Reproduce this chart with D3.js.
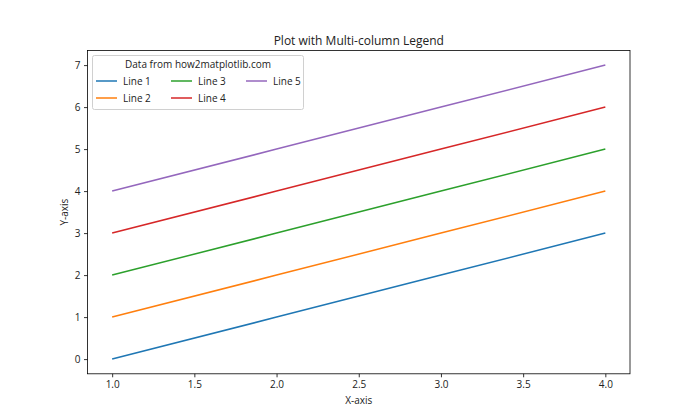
<!DOCTYPE html>
<html><head><meta charset="utf-8">
<script src="https://cdn.jsdelivr.net/npm/d3@7"></script>
<style>body{margin:0;background:#fff}text{font-family:"Open Sans","Noto Sans",sans-serif;fill:#222}</style>
</head><body><svg id="c" width="700" height="420"></svg>
<script>
const xValues = [1, 2, 3, 4];
const seriesNames = ["Line 1", "Line 2", "Line 3", "Line 4", "Line 5"];
const seriesValues = [
  [0, 1, 2, 3],
  [1, 2, 3, 4],
  [2, 3, 4, 5],
  [3, 4, 5, 6],
  [4, 5, 6, 7]
];
const colors = ["#1f77b4", "#ff7f0e", "#2ca02c", "#d62728", "#9467bd"];
const xTicks = [1.0, 1.5, 2.0, 2.5, 3.0, 3.5, 4.0];
const yTicks = [0, 1, 2, 3, 4, 5, 6, 7];
const title = "Plot with Multi-column Legend";
const legendTitle = "Data from how2matplotlib.com";

const svg = d3.select("#c");
const L = 87.5, R = 630, T = 50.4, B = 373.8;
const x = d3.scaleLinear().domain([0.85, 4.15]).range([L, R]);
const y = d3.scaleLinear().domain([-0.35, 7.35]).range([B, T]);

const line = d3.line().x((d, i) => x(xValues[i])).y(d => y(d));
seriesValues.forEach((s, i) => {
  svg.append("path").attr("d", line(s)).attr("fill", "none")
    .attr("stroke", colors[i]).attr("stroke-width", 1.5);
});

const xAxis = svg.append("g").attr("transform", `translate(0,${B})`)
  .call(d3.axisBottom(x).tickValues(xTicks).tickFormat(d3.format(".1f")).tickSize(3.5).tickPadding(3.5));
const yAxis = svg.append("g").attr("transform", `translate(${L},0)`)
  .call(d3.axisLeft(y).tickValues(yTicks).tickFormat(d3.format("d")).tickSize(3.5).tickPadding(3.5));
[xAxis, yAxis].forEach(a => {
  a.select(".domain").remove();
  a.selectAll("line").attr("stroke", "#000").attr("stroke-width", 0.8);
  a.selectAll("text").attr("font-size", 10).attr("fill", "#222")
    .style("font-family", '"Open Sans","Noto Sans",sans-serif');
});
svg.append("rect").attr("x", L).attr("y", T).attr("width", R - L).attr("height", B - T)
  .attr("fill", "none").attr("stroke", "#000").attr("stroke-width", 0.8);

svg.append("text").attr("x", (L + R) / 2).attr("y", 45).attr("text-anchor", "middle")
  .attr("font-size", 12).text(title);
svg.append("text").attr("x", (L + R) / 2).attr("y", 404).attr("text-anchor", "middle")
  .attr("font-size", 10).text("X-axis");
svg.append("text").attr("transform", `translate(68,${(T + B) / 2}) rotate(-90)`)
  .attr("text-anchor", "middle").attr("font-size", 10).text("Y-axis");

// legend
const lg = svg.append("g");
lg.append("rect").attr("x", 92.5).attr("y", 55.5).attr("width", 211).attr("height", 54)
  .attr("rx", 2).attr("fill", "#fff").attr("fill-opacity", 0.8).attr("stroke", "#d0d0d0");
lg.append("text").attr("x", 198).attr("y", 68).attr("text-anchor", "middle")
  .attr("font-size", 10).text(legendTitle);
seriesNames.forEach((n, i) => {
  const col = Math.floor(i / 2), row = i % 2;
  const lx = 96 + col * 75, ly = 81 + row * 17;
  lg.append("line").attr("x1", lx).attr("x2", lx + 21).attr("y1", ly).attr("y2", ly)
    .attr("stroke", colors[i]).attr("stroke-width", 1.5);
  lg.append("text").attr("x", lx + 27).attr("y", ly + 3.5).attr("font-size", 10).text(n);
});
</script></body></html>
